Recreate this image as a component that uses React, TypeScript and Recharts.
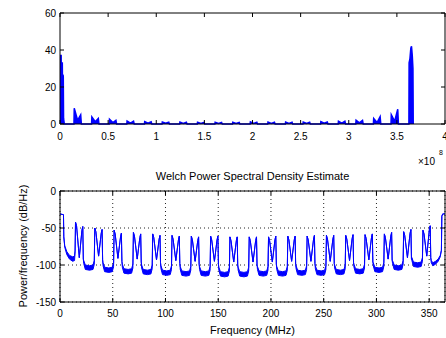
import { ComposedChart, Area, XAxis, YAxis, CartesianGrid } from "recharts";

// top panel, x in units of 1e8 Hz
const rawTicksX = [0, 0.5, 1, 1.5, 2, 2.5, 3, 3.5, 4];
const rawTicksY = [0, 20, 40, 60];
const rawPsd: [number, number][] = [
  [0, 37], [0.012, 37], [0.013, 33], [0.024, 33], [0.025, 27], [0.034, 26], [0.037, 3], [0.045, 0],
  [0.145, 0], [0.148, 8.5], [0.183, 2], [0.215, 5], [0.222, 0],
  [0.328, 0], [0.331, 3.8], [0.366, 1.2], [0.398, 3], [0.405, 0],
  [0.511, 0], [0.514, 2.6], [0.549, 0.8], [0.581, 2], [0.588, 0],
  [0.694, 0], [0.697, 1.6], [0.732, 0.5], [0.764, 1.5], [0.771, 0],
  [0.877, 0], [0.88, 1.3], [0.915, 0.4], [0.947, 1.2], [0.954, 0],
  [1.06, 0], [1.063, 1.1], [1.098, 0.4], [1.13, 1], [1.137, 0],
  [1.243, 0], [1.246, 1], [1.281, 0.3], [1.313, 1], [1.32, 0],
  [1.426, 0], [1.429, 0.9], [1.464, 0.3], [1.496, 0.9], [1.503, 0],
  [1.609, 0], [1.612, 0.9], [1.647, 0.3], [1.679, 0.8], [1.686, 0],
  [1.792, 0], [1.795, 0.9], [1.83, 0.3], [1.862, 0.9], [1.869, 0],
  [1.975, 0], [1.978, 1.2], [2.013, 0.3], [2.045, 1], [2.052, 0],
  [2.158, 0], [2.161, 1], [2.196, 0.3], [2.228, 1], [2.235, 0],
  [2.341, 0], [2.344, 1], [2.379, 0.3], [2.411, 1], [2.418, 0],
  [2.524, 0], [2.527, 1.1], [2.562, 0.3], [2.594, 1], [2.601, 0],
  [2.707, 0], [2.71, 1.3], [2.745, 0.4], [2.777, 1.1], [2.784, 0],
  [2.89, 0], [2.893, 1.5], [2.928, 0.5], [2.96, 1.5], [2.967, 0],
  [3.073, 0], [3.076, 2], [3.111, 0.6], [3.143, 2], [3.15, 0],
  [3.256, 0], [3.259, 3], [3.294, 0.8], [3.326, 4], [3.333, 0],
  [3.439, 0], [3.442, 5], [3.477, 1.5], [3.509, 8], [3.516, 0],
  [3.625, 0], [3.627, 33], [3.635, 35], [3.645, 41], [3.652, 42], [3.66, 37], [3.667, 30], [3.67, 0],
];

// bottom panel: welch estimate, [freq MHz, upper dB, lower dB]
const welchTicksX = [0, 50, 100, 150, 200, 250, 300, 350];
const welchTicksY = [-150, -100, -50, 0];
const welchPsd: [number, number, number][] = [
  [0, -31, -31], [3.3, -32, -32], [3.6, -62, -62], [4.5, -74, -76], [6.5, -82, -86], [9, -87, -92], [12, -89, -95], [13.8, -88, -94], [14.3, -80, -82],
  [14.7, -42, -42], [15.7, -47, -47], [18.3, -90, -90], [20.8, -53, -53], [21.6, -48, -48], [22.1, -92, -92],
  [22.5, -94, -98], [24.0, -100, -106], [28.0, -101, -107], [31.3, -100, -106], [32.5, -94, -99],
  [33.0, -50, -50], [34.0, -55, -55], [36.6, -88, -88], [39.1, -57, -57], [39.9, -52, -52], [40.4, -93, -93],
  [40.8, -97, -101], [42.3, -103, -109], [46.3, -104, -110], [49.6, -103, -109], [50.8, -97, -102],
  [51.3, -53, -53], [52.3, -58, -58], [54.9, -91, -91], [57.4, -62, -62], [58.2, -57, -57], [58.7, -95, -95],
  [59.1, -99, -103], [60.6, -105, -111], [64.6, -106, -112], [67.9, -105, -111], [69.1, -99, -104],
  [69.6, -56, -56], [70.6, -61, -61], [73.2, -92, -92], [75.7, -63, -63], [76.5, -58, -58], [77.0, -96, -96],
  [77.4, -100, -104], [78.9, -106, -112], [82.9, -107, -113], [86.2, -106, -112], [87.4, -100, -105],
  [87.9, -58, -58], [88.9, -63, -63], [91.5, -93, -93], [94.0, -65, -65], [94.8, -60, -60], [95.3, -97, -97],
  [95.7, -101, -105], [97.2, -107, -113], [101.2, -108, -114], [104.5, -107, -113], [105.7, -101, -106],
  [106.2, -60, -60], [107.2, -65, -65], [109.8, -94, -94], [112.3, -66, -66], [113.1, -61, -61], [113.6, -98, -98],
  [114.0, -102, -106], [115.5, -108, -114], [119.5, -109, -115], [122.8, -108, -114], [124.0, -102, -107],
  [124.5, -61, -61], [125.5, -66, -66], [128.1, -95, -95], [130.6, -67, -67], [131.4, -62, -62], [131.9, -99, -99],
  [132.3, -102, -106], [133.8, -108, -114], [137.8, -109, -115], [141.1, -108, -114], [142.3, -102, -107],
  [142.8, -61, -61], [143.8, -66, -66], [146.4, -95, -95], [148.9, -66, -66], [149.7, -61, -61], [150.2, -99, -99],
  [150.6, -103, -107], [152.1, -109, -115], [156.1, -110, -116], [159.4, -109, -115], [160.6, -103, -108],
  [161.1, -62, -62], [162.1, -67, -67], [164.7, -96, -96], [167.2, -67, -67], [168.0, -62, -62], [168.5, -100, -100],
  [168.9, -103, -107], [170.4, -109, -115], [174.4, -110, -116], [177.7, -109, -115], [178.9, -103, -108],
  [179.4, -62, -62], [180.4, -67, -67], [183.0, -96, -96], [185.5, -67, -67], [186.3, -62, -62], [186.8, -100, -100],
  [187.2, -102, -106], [188.7, -108, -114], [192.7, -109, -115], [196.0, -108, -114], [197.2, -102, -107],
  [197.7, -62, -62], [198.7, -67, -67], [201.3, -96, -96], [203.8, -66, -66], [204.6, -61, -61], [205.1, -99, -99],
  [205.5, -102, -106], [207.0, -108, -114], [211.0, -109, -115], [214.3, -108, -114], [215.5, -102, -107],
  [216.0, -61, -61], [217.0, -66, -66], [219.6, -95, -95], [222.1, -66, -66], [222.9, -61, -61], [223.4, -99, -99],
  [223.8, -101, -105], [225.3, -107, -113], [229.3, -108, -114], [232.6, -107, -113], [233.8, -101, -106],
  [234.3, -61, -61], [235.3, -66, -66], [237.9, -95, -95], [240.4, -65, -65], [241.2, -60, -60], [241.7, -98, -98],
  [242.1, -101, -105], [243.6, -107, -113], [247.6, -108, -114], [250.9, -107, -113], [252.1, -101, -106],
  [252.6, -60, -60], [253.6, -65, -65], [256.2, -95, -95], [258.7, -65, -65], [259.5, -60, -60], [260.0, -98, -98],
  [260.4, -100, -104], [261.9, -106, -112], [265.9, -107, -113], [269.2, -106, -112], [270.4, -100, -105],
  [270.9, -60, -60], [271.9, -65, -65], [274.5, -94, -94], [277.0, -64, -64], [277.8, -59, -59], [278.3, -97, -97],
  [278.7, -99, -103], [280.2, -105, -111], [284.2, -106, -112], [287.5, -105, -111], [288.7, -99, -104],
  [289.2, -59, -59], [290.2, -64, -64], [292.8, -93, -93], [295.3, -63, -63], [296.1, -58, -58], [296.6, -96, -96],
  [297.0, -97, -101], [298.5, -103, -109], [302.5, -104, -110], [305.8, -103, -109], [307.0, -97, -102],
  [307.5, -58, -58], [308.5, -63, -63], [311.1, -92, -92], [313.6, -61, -61], [314.4, -56, -56], [314.9, -94, -94],
  [315.3, -94, -98], [316.8, -100, -106], [320.8, -101, -107], [324.1, -100, -106], [325.3, -94, -99],
  [325.8, -55, -55], [326.8, -60, -60], [329.4, -90, -90], [331.9, -57, -57], [332.7, -52, -52], [333.2, -92, -92],
  [333.6, -90, -94], [335.1, -96, -102], [339.1, -97, -103], [342.4, -96, -102], [343.6, -90, -95],
  [344.1, -53, -53], [345.1, -58, -58], [347.7, -88, -88], [350.2, -52, -52], [351.0, -47, -47], [351.5, -90, -90],
  [352.0, -94, -97], [353.5, -97, -101], [356, -95, -99], [358.5, -92, -95], [360.5, -87, -89], [361.6, -80, -80],
  [362.0, -34, -34], [362.8, -31, -31], [365, -31, -31],
];

const BLUE = "#0000ff";
const FONT = '"Liberation Sans", Arial, sans-serif';
const tickStyle = { fill: "#000", fontSize: 10, fontFamily: FONT };
const axisLine = { stroke: "#000" };
const blank = () => "";

function RawPanel() {
  const data = rawPsd.map(([x, y]) => ({ x, y }));
  return (
    <ComposedChart width={446} height={169} data={data} margin={{ top: 12, right: 0, bottom: 0, left: 0 }}>
      <XAxis dataKey="x" type="number" domain={[0, 4]} ticks={rawTicksX} height={45} tickSize={-4} tickMargin={13} tick={tickStyle} axisLine={axisLine} tickLine={axisLine} interval={0} />
      <XAxis xAxisId="t" dataKey="x" orientation="top" type="number" domain={[0, 4]} ticks={rawTicksX} height={1} tickSize={-4} tickFormatter={blank} axisLine={axisLine} tickLine={axisLine} interval={0} />
      <YAxis type="number" domain={[0, 60]} ticks={rawTicksY} width={60} tickSize={-4} tickMargin={8} tick={tickStyle} axisLine={axisLine} tickLine={axisLine} interval={0} />
      <YAxis yAxisId="r" orientation="right" type="number" domain={[0, 60]} ticks={rawTicksY} width={1} tickSize={-4} tickFormatter={blank} axisLine={axisLine} tickLine={axisLine} interval={0} />
      {/* invisible copy so the box axes get registered */}
      <Area xAxisId="t" yAxisId="r" dataKey="y" type="linear" stroke="none" fill="none" dot={false} activeDot={false} isAnimationActive={false} />
      <Area dataKey="y" type="linear" stroke={BLUE} strokeWidth={1.5} fill={BLUE} fillOpacity={1} dot={false} activeDot={false} isAnimationActive={false} />
    </ComposedChart>
  );
}

function WelchPanel() {
  const data = welchPsd.map(([f, hi, lo]) => ({ f, band: [lo, hi] }));
  return (
    <ComposedChart width={446} height={169} data={data} margin={{ top: 21, right: 0, bottom: 0, left: 0 }}>
      <CartesianGrid stroke="#222" strokeDasharray="1 3" />
      <XAxis dataKey="f" type="number" domain={[0, 365]} ticks={welchTicksX} height={36} tickSize={-4} tickMargin={12} tick={tickStyle} axisLine={axisLine} tickLine={axisLine} interval={0} allowDataOverflow />
      <XAxis xAxisId="t" dataKey="f" orientation="top" type="number" domain={[0, 365]} ticks={welchTicksX} height={1} tickSize={-4} tickFormatter={blank} axisLine={axisLine} tickLine={axisLine} interval={0} allowDataOverflow />
      <YAxis type="number" domain={[-150, 0]} ticks={welchTicksY} width={60} tickSize={-4} tickMargin={8} tick={tickStyle} axisLine={axisLine} tickLine={axisLine} interval={0} />
      <YAxis yAxisId="r" orientation="right" type="number" domain={[-150, 0]} ticks={welchTicksY} width={1} tickSize={-4} tickFormatter={blank} axisLine={axisLine} tickLine={axisLine} interval={0} />
      <Area xAxisId="t" yAxisId="r" dataKey="band" type="linear" stroke="none" fill="none" dot={false} activeDot={false} isAnimationActive={false} />
      <Area dataKey="band" type="linear" stroke={BLUE} strokeWidth={1} fill={BLUE} fillOpacity={1} dot={false} activeDot={false} isAnimationActive={false} />
    </ComposedChart>
  );
}

export default function App() {
  const text = { position: "absolute" as const, fontFamily: FONT, fontSize: 11, color: "#000", lineHeight: "12px", whiteSpace: "nowrap" as const };
  return (
    <div style={{ position: "absolute", left: 0, top: 0, width: 446, height: 338, background: "#fff", overflow: "hidden" }}>
      <div style={{ position: "absolute", left: 0, top: 0 }}>
        <RawPanel />
      </div>
      <div style={{ position: "absolute", left: 0, top: 169 }}>
        <WelchPanel />
      </div>
      <div style={{ ...text, left: 418, top: 156, fontSize: 10 }}>×10</div>
      <div style={{ ...text, left: 439, top: 147, fontSize: 7 }}>8</div>
      <div style={{ ...text, left: 60, top: 170, width: 385, textAlign: "center" }}>Welch Power Spectral Density Estimate</div>
      <div style={{ ...text, left: 60, top: 324, width: 385, textAlign: "center" }}>Frequency (MHz)</div>
      <div style={{ ...text, left: -47, top: 240, width: 140, textAlign: "center", transform: "rotate(-90deg)" }}>Power/frequency (dB/Hz)</div>
    </div>
  );
}
